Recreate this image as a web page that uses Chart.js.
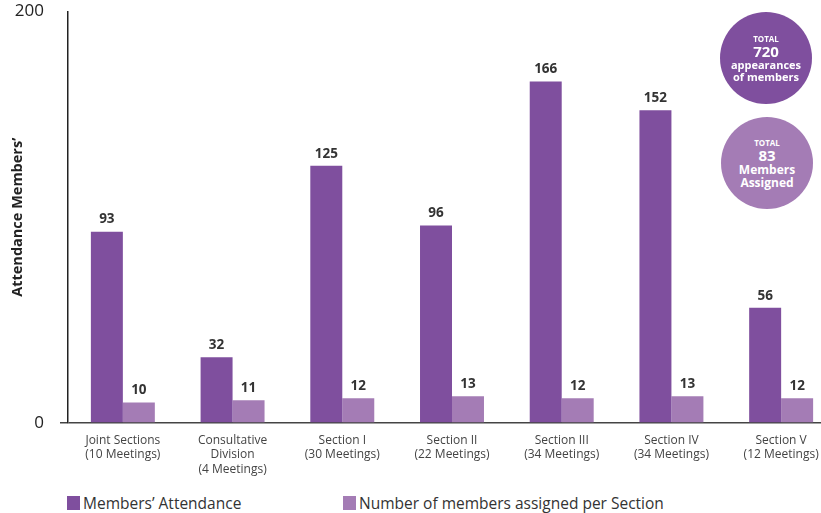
<!DOCTYPE html>
<html>
<head>
<meta charset="utf-8">
<script src="https://cdn.jsdelivr.net/npm/chart.js@4.4.1/dist/chart.umd.min.js"></script>
<style>
  html, body { margin: 0; padding: 0; background: #fff; overflow: hidden; width: 821px; height: 513px; }
  body { position: relative; font-family: "Open Sans", sans-serif; }
  #chart { position: absolute; left: 0; top: 0; }
  .legend { position: absolute; top: 492px; font-size: 15.5px; color: #333; display: flex; align-items: center; white-space: nowrap; }
  .legend span.box { display: inline-block; width: 13px; height: 14px; margin-right: 3px; }
  .bubble { position: absolute; width: 92px; height: 92px; border-radius: 50%; color: #fff;
            display: flex; flex-direction: column; align-items: center; justify-content: center; font-weight: 700; text-align: center; }
  .bubble .t { font-size: 8px; line-height: 10px; }
  .bubble .n { font-size: 15px; line-height: 15px; }
  .bubble .w { font-size: 11px; line-height: 12px; }
</style>
</head>
<body>
<canvas id="chart" width="840" height="480"></canvas>

<div class="bubble" id="bubbleAttendance" style="left:720px; top:12px;">
  <div class="t">TOTAL</div>
  <div class="n">720</div>
  <div class="w">appearances</div>
  <div class="w">of members</div>
</div>
<div class="bubble" id="bubbleAssigned" style="left:721px; top:117px;">
  <div class="t">TOTAL</div>
  <div class="n">83</div>
  <div class="w" style="font-size:12px; line-height:13px;">Members</div>
  <div class="w" style="font-size:12px; line-height:13px;">Assigned</div>
</div>

<div class="legend" style="left:67px;"><span class="box" id="boxA"></span><span id="labelA"></span></div>
<div class="legend" style="left:343px;"><span class="box" id="boxB"></span><span id="labelB"></span></div>

<script>
// Sections and their meeting counts (multi-line axis labels)
const categories = [
    ['Joint Sections', '(10 Meetings)'],
    ['Consultative', 'Division', '(4 Meetings)'],
    ['Section I', '(30 Meetings)'],
    ['Section II', '(22 Meetings)'],
    ['Section III', '(34 Meetings)'],
    ['Section IV', '(34 Meetings)'],
    ['Section V', '(12 Meetings)']
];
const attendance = [93, 32, 125, 96, 166, 152, 56];
const assigned = [10, 11, 12, 13, 12, 13, 12];
const yTicks = [0, 200];

const seriesNames = ["Members’ Attendance", 'Number of members assigned per Section'];
const darkPurple = '#7f4f9e';
const lightPurple = '#a47cb5';

// Totals shown in the bubbles
const totalAttendance = attendance.reduce((a, b) => a + b, 0);
const totalAssigned = assigned.reduce((a, b) => a + b, 0);

// Legend + bubbles
document.getElementById('boxA').style.background = darkPurple;
document.getElementById('boxB').style.background = lightPurple;
document.getElementById('labelA').textContent = seriesNames[0];
document.getElementById('labelB').textContent = seriesNames[1];
document.getElementById('bubbleAttendance').style.background = darkPurple;
document.getElementById('bubbleAssigned').style.background = lightPurple;
document.querySelector('#bubbleAttendance .n').textContent = totalAttendance;
document.querySelector('#bubbleAssigned .n').textContent = totalAssigned;

// Value labels above each bar
const valueLabels = {
    id: 'valueLabels',
    afterDatasetsDraw(chart) {
        const ctx = chart.ctx;
        ctx.save();
        ctx.font = 'bold 13.5px "Open Sans", sans-serif';
        ctx.fillStyle = '#333';
        ctx.textAlign = 'center';
        ctx.textBaseline = 'middle';
        chart.data.datasets.forEach((ds, i) => {
            chart.getDatasetMeta(i).data.forEach((bar, j) => {
                ctx.fillText(ds.data[j], bar.x, bar.y - 12);
            });
        });
        ctx.restore();
    }
};

const zeroOnly = (c) => c.tick && c.tick.value === 0 ? '#444' : 'rgba(0,0,0,0)';

new Chart(document.getElementById('chart'), {
    type: 'bar',
    data: {
        labels: categories,
        datasets: [
            { label: seriesNames[0], data: attendance, backgroundColor: darkPurple },
            { label: seriesNames[1], data: assigned, backgroundColor: lightPurple }
        ]
    },
    options: {
        responsive: false,
        animation: false,
        categoryPercentage: 0.583,
        barPercentage: 1,
        layout: { padding: { top: 2, right: 4, left: 0, bottom: 0 } },
        plugins: {
            legend: { display: false },
            tooltip: { enabled: false }
        },
        scales: {
            x: {
                grid: { display: false },
                border: { display: false },
                ticks: {
                    color: '#444',
                    font: { family: '"Open Sans", sans-serif', size: 12, lineHeight: 1.17 },
                    padding: 3,
                    maxRotation: 0,
                    autoSkip: false
                },
                afterFit: (scale) => { scale.height = 57; }
            },
            y: {
                min: 0,
                max: 200,
                afterBuildTicks: (scale) => { scale.ticks = yTicks.map(v => ({ value: v })); },
                afterFit: (scale) => { scale.width = 68; },
                border: { display: true, color: '#222', width: 1.5 },
                grid: {
                    drawOnChartArea: true,
                    tickLength: 21,
                    lineWidth: 1.5,
                    color: zeroOnly,
                    tickColor: zeroOnly,
                    // tick is long for label spacing, but only the part next to the axis shows
                    tickBorderDash: [8, 13],
                    tickBorderDashOffset: 8
                },
                ticks: {
                    color: '#222',
                    padding: 3,
                    font: { family: '"Open Sans", sans-serif', size: 17, lineHeight: 1.0 }
                },
                title: {
                    display: true,
                    text: 'Attendance Members’',
                    color: '#222',
                    padding: { top: 9, bottom: 0 },
                    font: { family: '"Open Sans", sans-serif', size: 14.5, weight: 'bold' }
                }
            }
        }
    },
    plugins: [valueLabels]
});
</script>
</body>
</html>
